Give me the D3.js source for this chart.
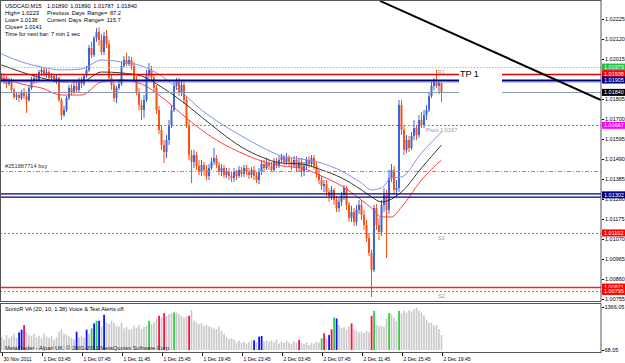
<!doctype html>
<html>
<head>
<meta charset="utf-8">
<title>USDCAD,M15</title>
<script src="https://cdnjs.cloudflare.com/ajax/libs/d3/7.8.5/d3.min.js"></script>
<style>
  body { margin: 0; background: #fff; }
  svg text { font-family: "Liberation Sans", Arial, sans-serif; }
  .axis path, .axis line { stroke: #000; shape-rendering: crispEdges; }
  .axis text { fill: #000; font-size: 5.5px; }
  .xaxis text { font-size: 5px; }
</style>
</head>
<body>
<div id="chart"></div>
<script>

// ---- data ----

// M15 bars, 30 Nov 23:45 .. 2 Dec 19:45
const open = [
1.01926,1.01905,1.01916,1.01884,1.01905,1.01853,1.01816,1.01826,1.01811,1.01842,
1.01821,1.01800,1.01863,1.01905,1.01916,1.01905,1.01947,1.01958,1.01937,1.01947,
1.01916,1.01926,1.01905,1.01916,1.01800,1.01721,1.01748,1.01811,1.01863,1.01842,
1.01874,1.01853,1.01895,1.01884,1.01926,1.01958,1.02073,1.02036,1.02126,1.02157,
1.02115,1.02052,1.02136,1.02094,1.01916,1.01879,1.01811,1.01863,1.01884,1.01979,
1.02010,1.01989,1.02010,1.01979,1.01905,1.01842,1.01774,1.01748,1.01800,1.01931,
1.01958,1.01916,1.01863,1.01748,1.01643,1.01564,1.01527,1.01590,1.01669,1.01748,
1.01874,1.01895,1.01842,1.01879,1.01800,1.01669,1.01511,1.01475,1.01511,1.01454,
1.01422,1.01459,1.01433,1.01401,1.01443,1.01475,1.01496,1.01459,1.01422,1.01443,
1.01406,1.01422,1.01401,1.01391,1.01422,1.01401,1.01433,1.01412,1.01443,1.01422,
1.01406,1.01433,1.01401,1.01380,1.01422,1.01464,1.01443,1.01469,1.01454,1.01433,
1.01475,1.01459,1.01485,1.01501,1.01475,1.01496,1.01475,1.01459,1.01485,1.01443,
1.01475,1.01422,1.01454,1.01485,1.01464,1.01496,1.01454,1.01412,1.01380,1.01349,
1.01359,1.01317,1.01296,1.01328,1.01275,1.01233,1.01265,1.01301,1.01338,1.01249,
1.01181,1.01212,1.01160,1.01223,1.01249,1.01196,1.01144,1.01076,1.00997,1.00908,
1.01233,1.01144,1.01107,1.01249,1.01301,1.01223,1.01391,1.01433,1.01328,1.01338,
1.01774,1.01643,1.01538,1.01590,1.01548,1.01611,1.01653,1.01616,1.01695,1.01669,
1.01721,1.01748,1.01821,1.01874,1.01895,1.01874,1.01890];

const high = [
1.01942,1.01931,1.01926,1.01916,1.01916,1.01863,1.01842,1.01837,1.01853,1.01863,
1.01842,1.01874,1.01921,1.01937,1.01937,1.01958,1.01973,1.01968,1.01963,1.01958,
1.01942,1.01937,1.01931,1.01921,1.01811,1.01769,1.01821,1.01879,1.01884,1.01895,
1.01905,1.01916,1.01921,1.01937,1.01979,1.02089,1.02105,1.02136,1.02178,1.02183,
1.02147,1.02157,1.02168,1.02115,1.01931,1.01895,1.01874,1.01905,1.02000,1.02031,
1.02047,1.02031,1.02026,1.02000,1.01926,1.01863,1.01800,1.01826,1.01958,1.01994,
1.01979,1.01937,1.01879,1.01769,1.01664,1.01590,1.01616,1.01695,1.01774,1.01905,
1.01916,1.01916,1.01905,1.01895,1.01821,1.01695,1.01538,1.01538,1.01527,1.01485,
1.01485,1.01475,1.01459,1.01464,1.01496,1.01548,1.01511,1.01475,1.01464,1.01459,
1.01443,1.01443,1.01422,1.01443,1.01433,1.01454,1.01448,1.01459,1.01459,1.01443,
1.01448,1.01454,1.01422,1.01443,1.01485,1.01485,1.01496,1.01485,1.01475,1.01496,
1.01496,1.01506,1.01517,1.01511,1.01522,1.01511,1.01496,1.01506,1.01506,1.01496,
1.01496,1.01475,1.01501,1.01506,1.01511,1.01511,1.01475,1.01433,1.01401,1.01380,
1.01380,1.01338,1.01349,1.01338,1.01296,1.01286,1.01317,1.01354,1.01349,1.01265,
1.01244,1.01233,1.01249,1.01275,1.01275,1.01223,1.01170,1.01097,1.01013,1.01249,
1.01254,1.01181,1.01275,1.01338,1.01328,1.01433,1.01464,1.01454,1.01380,1.01800,
1.01800,1.01669,1.01616,1.01611,1.01632,1.01695,1.01669,1.01721,1.01737,1.01748,
1.01774,1.01842,1.01895,1.01916,1.01958,1.01905,1.01890];

const low = [
1.01895,1.01884,1.01863,1.01874,1.01842,1.01805,1.01800,1.01790,1.01800,1.01805,
1.01732,1.01790,1.01853,1.01884,1.01889,1.01895,1.01926,1.01921,1.01916,1.01905,
1.01900,1.01889,1.01884,1.01790,1.01695,1.01711,1.01737,1.01800,1.01826,1.01832,
1.01842,1.01842,1.01863,1.01874,1.01916,1.01947,1.02021,1.02026,1.02105,1.02084,
1.02036,1.02036,1.02073,1.01905,1.01853,1.01790,1.01784,1.01853,1.01874,1.01968,
1.01979,1.01979,1.01958,1.01895,1.01826,1.01748,1.01695,1.01706,1.01790,1.01916,
1.01895,1.01842,1.01727,1.01622,1.01538,1.01469,1.01496,1.01564,1.01653,1.01737,
1.01853,1.01821,1.01821,1.01779,1.01653,1.01485,1.01364,1.01443,1.01433,1.01406,
1.01401,1.01401,1.01380,1.01380,1.01433,1.01459,1.01443,1.01406,1.01401,1.01391,
1.01391,1.01380,1.01370,1.01370,1.01380,1.01391,1.01396,1.01396,1.01406,1.01385,
1.01391,1.01380,1.01364,1.01359,1.01406,1.01422,1.01433,1.01433,1.01422,1.01422,
1.01443,1.01443,1.01469,1.01459,1.01459,1.01454,1.01433,1.01443,1.01422,1.01422,
1.01396,1.01401,1.01433,1.01443,1.01448,1.01433,1.01391,1.01359,1.01328,1.01317,
1.01296,1.01265,1.01275,1.01249,1.01212,1.01212,1.01244,1.01275,1.01223,1.01160,
1.01160,1.01139,1.01139,1.01202,1.01170,1.01118,1.01055,1.00981,1.00766,1.00897,
1.01118,1.01065,1.01086,1.01212,1.00971,1.01202,1.01370,1.01301,1.01296,1.01317,
1.01616,1.01511,1.01522,1.01527,1.01538,1.01590,1.01590,1.01601,1.01653,1.01653,
1.01695,1.01737,1.01811,1.01853,1.01863,1.01832,1.01787];

const close = [
1.01905,1.01916,1.01884,1.01905,1.01853,1.01816,1.01826,1.01811,1.01842,1.01821,
1.01800,1.01863,1.01905,1.01916,1.01905,1.01947,1.01958,1.01937,1.01947,1.01916,
1.01926,1.01905,1.01916,1.01800,1.01721,1.01748,1.01811,1.01863,1.01842,1.01874,
1.01853,1.01895,1.01884,1.01926,1.01958,1.02073,1.02036,1.02126,1.02157,1.02115,
1.02052,1.02136,1.02094,1.01916,1.01879,1.01811,1.01863,1.01884,1.01979,1.02010,
1.01989,1.02010,1.01979,1.01905,1.01842,1.01774,1.01748,1.01800,1.01931,1.01958,
1.01916,1.01863,1.01748,1.01643,1.01564,1.01527,1.01590,1.01669,1.01748,1.01874,
1.01895,1.01842,1.01879,1.01800,1.01669,1.01511,1.01475,1.01511,1.01454,1.01422,
1.01459,1.01433,1.01401,1.01443,1.01475,1.01496,1.01459,1.01422,1.01443,1.01406,
1.01422,1.01401,1.01391,1.01422,1.01401,1.01433,1.01412,1.01443,1.01422,1.01406,
1.01433,1.01401,1.01380,1.01422,1.01464,1.01443,1.01469,1.01454,1.01433,1.01475,
1.01459,1.01485,1.01501,1.01475,1.01496,1.01475,1.01459,1.01485,1.01443,1.01475,
1.01422,1.01454,1.01485,1.01464,1.01496,1.01454,1.01412,1.01380,1.01349,1.01359,
1.01317,1.01296,1.01328,1.01275,1.01233,1.01265,1.01301,1.01338,1.01249,1.01181,
1.01212,1.01160,1.01223,1.01249,1.01196,1.01144,1.01076,1.00997,1.00908,1.01233,
1.01144,1.01107,1.01249,1.01301,1.01223,1.01391,1.01433,1.01328,1.01338,1.01774,
1.01643,1.01538,1.01590,1.01548,1.01611,1.01653,1.01616,1.01695,1.01669,1.01721,
1.01748,1.01821,1.01874,1.01895,1.01874,1.01889,1.01840];

// tick volume (SonicR VA window)
const volume = [
450,380,520,420,480,560,430,600,680,820,
600,520,480,560,450,500,420,560,480,430,
500,380,450,620,700,560,520,480,430,380,
620,450,500,450,680,560,720,870,950,950,
780,1130,900,860,950,880,800,780,900,720,
760,680,700,800,740,820,700,760,800,950,
850,900,1000,1100,1050,1180,1100,1150,1180,1200,
1200,1150,1100,1050,1080,1100,1270,950,900,850,
880,800,820,780,750,720,700,780,650,560,
450,400,420,380,300,350,280,320,260,300,
350,360,300,470,490,320,350,320,350,300,
380,260,320,280,350,300,260,330,290,370,
280,250,300,220,280,260,320,300,420,570,
400,520,690,1050,1020,820,720,760,680,780,
870,700,650,600,620,580,640,600,1100,1250,
820,780,800,760,1000,1180,1150,1050,950,1250,
1180,1250,1200,1270,1230,1300,1350,1250,1200,1100,
980,900,880,800,820,700,520];
const blueVolBars  = [7,8,30,34,37,39,41,101,103,104,131,134];
const redVolBars   = [9,63,65,75,119,129,132,140,148];
const greenVolBars = [36,38,59,69,128,133,149,155,159];

// SonicR dragon lines, sampled every few bars
const maBars  = [0,8,16,24,32,40,48,56,64,72,80,88,96,104,112,120,128,136,144,148,152,156,160,168,176];
const maHigh  = [1.02042,1.02000,1.01973,1.01958,1.01963,1.02010,1.02000,1.01979,1.01926,1.01842,1.01748,1.01674,1.01611,1.01553,1.01506,1.01490,1.01469,1.01427,1.01364,1.01328,1.01338,1.01391,1.01396,1.01522,1.01632];
const maClose = [1.01984,1.01947,1.01916,1.01895,1.01895,1.01947,1.01942,1.01926,1.01868,1.01795,1.01711,1.01627,1.01553,1.01501,1.01469,1.01464,1.01433,1.01391,1.01328,1.01291,1.01265,1.01280,1.01317,1.01443,1.01564];
const maLow   = [1.01916,1.01884,1.01863,1.01826,1.01826,1.01895,1.01905,1.01884,1.01816,1.01727,1.01643,1.01574,1.01522,1.01480,1.01454,1.01443,1.01401,1.01349,1.01275,1.01233,1.01186,1.01186,1.01238,1.01380,1.01485];

// horizontal objects: R1, TP, entry, bid, pivot, order, stop, S1, ?, S2
const levelPrices = [1.01973, 1.01938, 1.01905, 1.01840, 1.01667, 1.01427, 1.01302, 1.01102, 1.00818, 1.00795];
const tagPrices   = [1.01973, 1.01938, 1.01905, 1.01840, 1.01667, 1.01302, 1.01102, 1.00818, 1.00795];
const tagLabels   = ['1.01973','1.01938','1.01905','1.01840','1.01667','1.01302','1.01102','1.00821','1.00795'];
const pivotLabels = ['R1', 'Pivot  1.0167', 'S1', 'S2'];
const pivotPrices = [1.01973, 1.01667, 1.01102, 1.00795];

// trend line anchors (bar index, price)
const trendBars   = [151.4, 239.8];
const trendPrices = [1.02320, 1.01800];

// 1.01910 sits under the price tags, so it is not shown
const priceTicks = [1.02225,1.02120,1.02015,1.01805,1.01700,1.01595,1.01490,1.01385,1.01280,1.01175,1.01070,1.00965,1.00860,1.00755];
const volTicks   = [68.05, 1366.05];
const timeTicks  = [0,16,32,48,64,80,96,112,128,144,160,176];
const timeLabels = ['30 Nov 2011','1 Dec 03:45','1 Dec 07:45','1 Dec 11:45','1 Dec 15:45','1 Dec 19:45',
                    '1 Dec 23:45','2 Dec 03:45','2 Dec 07:45','2 Dec 11:45','2 Dec 15:45','2 Dec 19:45'];

const infoLines = [
  ['USDCAD,M15', '1.01890 1.01890 1.01787 1.01840'],
  ['High= 1.0223', 'Previous Days Range= 87.2'],
  ['Low= 1.0136', 'Current Days Range= 115.7'],
  ['Close= 1.0141', ''],
  ['Time for next bar: 7 min 1 sec', '']
];

// ---- layout ----
const W = 625, H = 363;
const plotR = 601, mainB = 300, volT = 303, volB = 352;

const svg = d3.select('#chart').append('svg')
  .attr('width', W).attr('height', H)
  .style('display', 'block');

svg.append('rect').attr('width', W).attr('height', H).attr('fill', '#fff');

const x = d3.scaleLinear().domain([0, 176]).range([1.5, 441.5]);
const y = d3.scaleLinear().domain([1.02325, 1.00750]).range([0, mainB]);
const yv = d3.scaleLinear().domain([68.05, 1366.05]).range([350, 307]);

svg.append('clipPath').attr('id', 'mainclip')
  .append('rect').attr('x', 1).attr('y', 1).attr('width', plotR - 1).attr('height', mainB - 1);
svg.append('clipPath').attr('id', 'volclip')
  .append('rect').attr('x', 1).attr('y', volT + 1).attr('width', plotR - 1).attr('height', volB - volT - 1);

const main = svg.append('g').attr('clip-path', 'url(#mainclip)');

// candles
const bars = d3.range(open.length).map(i => ({i, o: open[i], h: high[i], l: low[i], c: close[i]}));
const bull = '#3c64dc', bear = '#ff4f14';

main.selectAll('line.wick').data(bars).join('line')
  .attr('class', 'wick')
  .attr('x1', d => x(d.i)).attr('x2', d => x(d.i))
  .attr('y1', d => y(d.h)).attr('y2', d => y(d.l))
  .attr('stroke', d => d.c >= d.o ? bull : bear)
  .attr('stroke-width', 1);

main.selectAll('rect.body').data(bars).join('rect')
  .attr('class', 'body')
  .attr('x', d => x(d.i) - 1)
  .attr('width', 2)
  .attr('y', d => y(Math.max(d.o, d.c)))
  .attr('height', d => Math.max(1, Math.abs(y(d.o) - y(d.c))))
  .attr('fill', d => d.c >= d.o ? bull : bear);

// dragon lines
const maLine = vals => d3.line()
  .x((d, k) => x(maBars[k]))
  .y(d => y(d))
  .curve(d3.curveMonotoneX)(vals);

[[maHigh, '#7b96e8'], [maClose, '#383838'], [maLow, '#ff4040']].forEach(([vals, col]) => {
  main.append('path').attr('d', maLine(vals))
    .attr('fill', 'none').attr('stroke', col).attr('stroke-width', 1);
});

// horizontal levels (styles by position in levelPrices)
const levelStyle = [
  {c: '#8fdc8f', w: 1,   dash: '1.5,1.5'},
  {c: '#e00000', w: 1.6, dash: null, gap: true},
  {c: '#00007f', w: 2,   dash: null, gap: true, twin: '#6070d0'},
  {c: '#8c9bab', w: 1,   dash: null, gap: true},
  {c: '#ff33ff', w: 1,   dash: '2,2'},
  {c: '#55bb55', w: 1,   dash: '4,2,1,2'},
  {c: '#00007f', w: 1.3, dash: null, double: true},
  {c: '#ff5050', w: 1,   dash: '2,2'},
  {c: '#ff2020', w: 1.3, dash: null},
  {c: '#ff5050', w: 1,   dash: '2,2'}
];
const gapFrom = x(183), gapTo = x(200.2);

levelPrices.forEach((p, k) => {
  const s = levelStyle[k];
  const segs = s.gap ? [[0, gapFrom], [gapTo, plotR]] : [[0, plotR]];
  const offs = s.double ? [-1.6, 1.6] : [0];
  segs.forEach(([a, b]) => offs.forEach(o => {
    main.append('line')
      .attr('x1', a).attr('x2', b)
      .attr('y1', Math.round(y(p)) + 0.5 + o).attr('y2', Math.round(y(p)) + 0.5 + o)
      .attr('stroke', s.c).attr('stroke-width', s.w)
      .attr('stroke-dasharray', s.dash);
    if (s.twin) {
      main.append('line')
        .attr('x1', a).attr('x2', b)
        .attr('y1', Math.round(y(p)) + 2).attr('y2', Math.round(y(p)) + 2)
        .attr('stroke', s.twin).attr('stroke-width', 0.8);
    }
  }));
});

// trend line
main.append('line')
  .attr('x1', x(trendBars[0])).attr('y1', y(trendPrices[0]))
  .attr('x2', x(trendBars[1])).attr('y2', y(trendPrices[1]))
  .attr('stroke', '#000').attr('stroke-width', 2);

// TP label
main.append('text').attr('x', gapFrom + 1).attr('y', y(1.01938) + 3.5)
  .text('TP 1').style('font-size', '9px').attr('fill', '#000');

// pivot labels, centred on the last bar
pivotPrices.forEach((p, k) => {
  main.append('text')
    .attr('x', x(176)).attr('y', y(p) + 7)
    .attr('text-anchor', 'middle')
    .style('font-size', '5.7px').attr('fill', '#9a9a9a')
    .text(pivotLabels[k]);
});

// order label
main.append('text').attr('x', 5).attr('y', y(1.01427) - 3)
  .text('#251887714 buy').style('font-size', '5.7px').attr('fill', '#333');

// info block top left
infoLines.forEach((ln, k) => {
  main.append('text').attr('x', 5).attr('y', 8 + k * 7.1)
    .style('font-size', '5.7px').attr('fill', '#000').text(ln[0]);
  if (ln[1]) main.append('text').attr('x', 47).attr('y', 8 + k * 7.1)
    .style('font-size', '5.7px').attr('fill', '#000').attr('word-spacing', '1px').text(ln[1]);
});

// ---- volume window ----
const vol = svg.append('g').attr('clip-path', 'url(#volclip)');
const volColor = i => blueVolBars.includes(i) ? '#0a14ff'
  : redVolBars.includes(i) ? '#ff1040'
  : greenVolBars.includes(i) ? '#30d040' : '#c8c8c8';

vol.selectAll('rect').data(volume).join('rect')
  .attr('x', (d, i) => x(i) - 0.8)
  .attr('width', (d, i) => volColor(i) === '#c8c8c8' ? 1.6 : 1.8)
  .attr('y', d => yv(d))
  .attr('height', d => 350 - yv(d))
  .attr('fill', (d, i) => volColor(i));

vol.append('text').attr('x', 5).attr('y', volT + 7.5)
  .style('font-size', '5.7px').attr('fill', '#000')
  .text('SonicR VA (20, 10, 1.38)    Voice & Test Alerts off.');
vol.append('text').attr('x', 5).attr('y', volB - 2)
  .style('font-size', '5.7px').attr('fill', '#222')
  .text('MetaTrader - Alpari UK, \u00a9 2001-2011 MetaQuotes Software Corp.');

// ---- frames ----
svg.append('rect').attr('x', 0.5).attr('y', 0.5).attr('width', plotR - 0.5).attr('height', mainB + 1)
  .attr('fill', 'none').attr('stroke', '#555');
svg.append('rect').attr('x', 0.5).attr('y', volT + 0.5).attr('width', plotR - 0.5).attr('height', volB - volT)
  .attr('fill', 'none').attr('stroke', '#555');

// ---- axes ----
svg.append('g').attr('class', 'axis')
  .attr('transform', `translate(${plotR + 0.5},0)`)
  .call(d3.axisRight(y).tickValues(priceTicks).tickSize(2).tickPadding(1.5).tickFormat(d3.format('.5f')))
  .call(g => g.select('.domain').remove());

svg.append('g').attr('class', 'axis')
  .attr('transform', `translate(${plotR + 0.5},0)`)
  .call(d3.axisRight(yv).tickValues(volTicks).tickSize(2).tickPadding(1).tickFormat(d3.format('.2f')))
  .call(g => g.select('.domain').remove());

const xAxis = svg.append('g').attr('class', 'axis xaxis')
  .attr('transform', `translate(0,${volB + 0.5})`)
  .call(d3.axisBottom(x).tickValues(timeTicks).tickSize(3).tickFormat((d, k) => timeLabels[k]))
  .call(g => g.select('.domain').remove());
xAxis.selectAll('text').attr('text-anchor', 'start').attr('dx', 1.5).attr('dy', '0.5em');

// price tags on the right
const tagFill = ['#22c040', '#ff0000', '#000080', '#000000', '#ff00ff', '#000080', '#ff0000', '#ff0000', '#ff0000'];
tagPrices.forEach((p, k) => {
  const ty = y(p);
  svg.append('rect').attr('x', plotR + 1).attr('y', ty - 3.5).attr('width', W - plotR).attr('height', 7)
    .attr('fill', tagFill[k]);
  svg.append('text').attr('x', plotR + 3).attr('y', ty + 2)
    .style('font-size', '5.5px').attr('fill', '#fff').text(tagLabels[k]);
});

</script>
</body>
</html>
